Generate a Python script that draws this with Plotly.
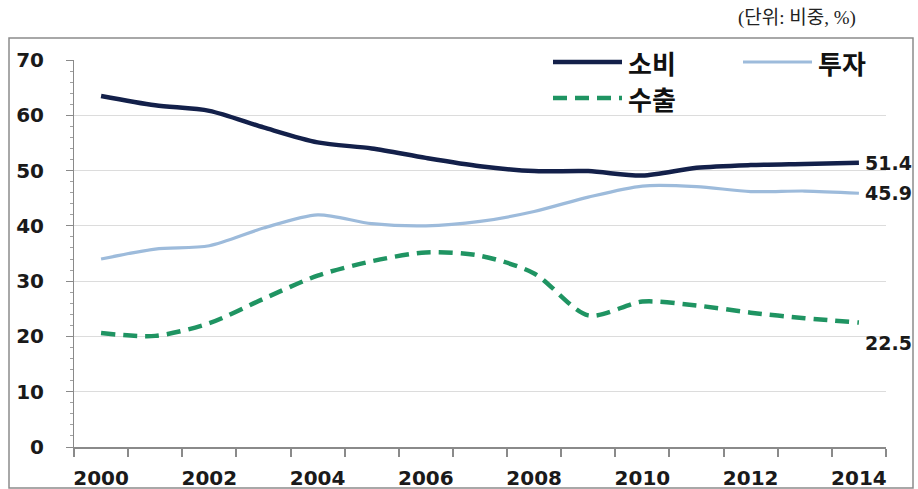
import plotly.graph_objects as go

years = list(range(2000, 2015))
consumption = [63.5, 61.8, 60.8, 57.8, 55.1, 54.0, 52.3, 50.8, 49.9, 49.9, 49.1, 50.5, 51.0, 51.2, 51.4]
investment = [34.0, 35.8, 36.4, 39.6, 42.0, 40.4, 40.0, 40.8, 42.6, 45.2, 47.2, 47.1, 46.2, 46.3, 45.9]
exports = [20.6, 20.1, 22.4, 26.8, 31.0, 33.6, 35.2, 34.6, 31.4, 23.8, 26.3, 25.6, 24.3, 23.3, 22.5]
names = ["소비", "투자", "수출"]
colors = ["#13204a", "#9dbbdb", "#1f9462"]
end_labels = ["51.4", "45.9", "22.5"]
x_ticks = [2000, 2002, 2004, 2006, 2008, 2010, 2012, 2014]
unit_text = "(단위: 비중, %)"

fig = go.Figure()
series = [consumption, investment, exports]
widths = [4.5, 3.2, 4.5]
dashes = ["solid", "solid", "14px,8px"]
for s, n, c, w, d in zip(series, names, colors, widths, dashes):
    fig.add_trace(go.Scatter(x=years, y=s, name=n, mode="lines",
                             line=dict(color=c, width=w, dash=d, shape="spline", smoothing=0.8),
                             showlegend=False, hoverinfo="skip"))

lab_font = dict(family="DejaVu Sans", size=20, color="#1a1a1a", weight="bold")
end_font = dict(family="DejaVu Sans", size=19, color="#1a1a1a", weight="bold")
yshifts = [0, 0, -20]
for s, t, ys in zip(series, end_labels, yshifts):
    fig.add_annotation(x=years[-1], y=s[-1], text=t, showarrow=False, xanchor="left",
                       yanchor="middle", xshift=4, yshift=ys, font=end_font)

# plot-area pixel geometry helpers (for legend/frame decorations in paper coords)
L, R, T, B = 74, 886, 60, 447
def px(xp):
    return (xp - L) / (R - L)
def py(yp):
    return (B - yp) / (B - T)

# frame
fig.add_shape(type="rect", xref="paper", yref="paper", x0=px(9), x1=px(913), y0=py(488), y1=py(38),
              line=dict(color="#8c8c8c", width=1.5), layer="below")

# custom legend
leg_items = [(0, 553, 622, 62), (1, 743, 812, 62), (2, 553, 622, 98)]
leg_font = dict(family="Noto Sans CJK KR", size=26, color="#111111", weight="bold")
for i, x0, x1, yy in leg_items:
    fig.add_shape(type="line", xref="paper", yref="paper", x0=px(x0), x1=px(x1), y0=py(yy), y1=py(yy),
                  line=dict(color=colors[i], width=widths[i], dash=dashes[i]))
    fig.add_annotation(xref="paper", yref="paper", x=px(x1 + 4), y=py(yy), text=names[i],
                       showarrow=False, xanchor="left", yanchor="middle", font=leg_font)

fig.add_annotation(xref="paper", yref="paper", x=px(858), y=py(18), text=unit_text, showarrow=False,
                   xanchor="right", yanchor="middle",
                   font=dict(family="Liberation Serif, Noto Sans CJK KR", size=19, color="#222222"))

fig.update_layout(
    width=918, height=489,
    margin=dict(l=L, r=918 - R, t=T, b=489 - B, autoexpand=False),
    paper_bgcolor="white", plot_bgcolor="white",
)
fig.update_xaxes(range=[1999.5, 2014.5], tickvals=x_ticks, ticktext=[str(v) for v in x_ticks],
                 ticks="", showgrid=False, showline=True, linecolor="#8a8a8a", linewidth=2,
                 tickfont=lab_font, ticklabelstandoff=12, automargin=False,
                 minor=dict(tick0=1999.5, dtick=1, ticks="outside", ticklen=8, tickcolor="#8a8a8a",
                            tickwidth=1.5, showgrid=False),
                 zeroline=False)
fig.update_yaxes(range=[0, 70], dtick=10, ticks="outside", ticklen=7, tickcolor="#8a8a8a",
                 showgrid=True, gridcolor="#dcdcdc", gridwidth=1, showline=True, linecolor="#8a8a8a",
                 linewidth=1, tickfont=lab_font, ticklabelstandoff=18, zeroline=False, automargin=False,
                 minor=dict(dtick=2, ticks="outside", ticklen=3, tickcolor="#a0a0a0", showgrid=False))

fig.write_html("out.html", config={"displayModeBar": False},
               post_script="document.body.style.margin='0px';document.body.style.overflow='hidden';")
